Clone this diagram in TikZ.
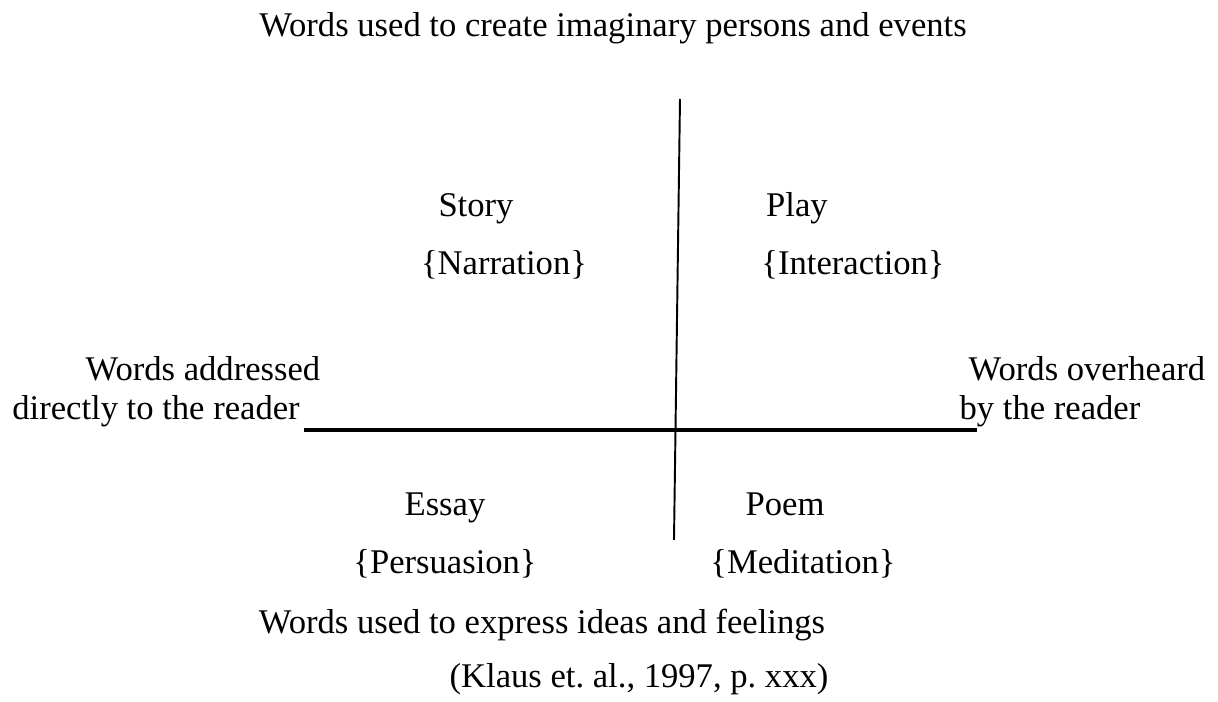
\documentclass[tikz,border=0pt]{standalone}
\usepackage{fontspec}
\setmainfont{Liberation Serif}
\frenchspacing

\tikzset{
  label/.style={inner sep=0pt, anchor=base, font=\fontsize{19.7}{23}\selectfont},
  axis/.style={line width=1.1pt},
  baseaxis/.style={line width=1.8pt}
}

\begin{document}
\begin{tikzpicture}[x=0.02cm,y=-0.02cm]
  \useasboundingbox (0,0) rectangle (1218,702);

  % poles of the two axes
  \coordinate (top) at (680,99);
  \coordinate (bottom) at (674,540);
  \coordinate (left) at (304,430);
  \coordinate (right) at (977,430);

  \begin{scope}[every node/.style={label}]
    \node (imaginary) at (613,37) {Words used to create imaginary persons and events};

    \node (story) at (476,217) {Story};
    \node (narration) at (504,275) {\{Narration\}};
    \node (play) at (797,217) {Play};
    \node (interaction) at (853,275) {\{Interaction\}};

    \node (addressed) at (203,381) {Words addressed};
    \node (directly) at (156,420) {directly to the reader};
    \node (overheard) at (1087,381) {Words overheard};
    \node (byreader) at (1050,420) {by the reader};

    \node (essay) at (445,516) {Essay};
    \node (persuasion) at (445,574) {\{Persuasion\}};
    \node (poem) at (785,516) {Poem};
    \node (meditation) at (803,574) {\{Meditation\}};

    \node (ideas) at (542,634) {Words used to express ideas and feelings};
    \node (source) at (639,687) {(Klaus et. al., 1997, p. xxx)};
  \end{scope}

  \begin{scope}
    \draw [axis] (top) -- (bottom);
    \draw [baseaxis] (left) -- (right);
  \end{scope}
\end{tikzpicture}
\end{document}
